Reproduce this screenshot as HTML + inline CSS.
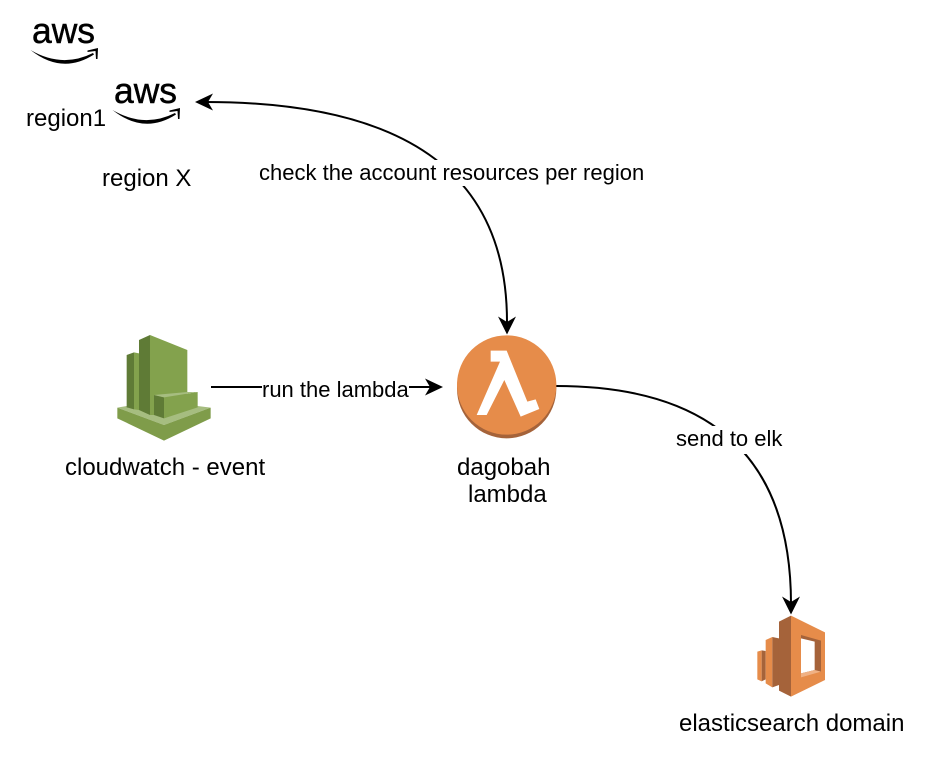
<!DOCTYPE html>
<html>
<head>
<meta charset="utf-8">
<style>
html,body{margin:0;padding:0;background:#fff;}
svg{display:block;}
text{font-family:"Liberation Sans",sans-serif;fill:#000;}
.l{font-size:24px;}
.c{font-size:22px;}
.a{stroke:#000;stroke-width:0.5px;}
</style>
</head>
<body>
<svg width="938" height="776" viewBox="0 0 938 776" xmlns="http://www.w3.org/2000/svg">
<rect width="938" height="776" fill="#fff"/>

<!-- connectors -->
<path d="M205,102 C415,102 507,180 507,322" fill="none" stroke="#000" stroke-width="2"/>
<path d="M211,387 L432,387" fill="none" stroke="#000" stroke-width="2"/>
<path d="M556,386 Q791,386 791,604" fill="none" stroke="#000" stroke-width="2"/>

<!-- label backgrounds -->
<rect x="256" y="160" width="390" height="26" fill="#fff"/>
<rect x="262" y="375" width="147" height="26" fill="#fff"/>
<rect x="673" y="426" width="112" height="28" fill="#fff"/>

<!-- arrowheads -->
<polygon points="195,102 213,93.500 208,102 213,110.500" fill="#000"/>
<polygon points="507,334.500 498,316.500 507,322 516,316.500" fill="#000"/>
<polygon points="443,387 425,378.500 430,387 425,395.500" fill="#000"/>
<polygon points="791,614.500 782,596.500 791,602 800,596.500" fill="#000"/>

<!-- aws logos -->
<g>
<text class="a" x="32" y="43" font-size="36" textLength="63" lengthAdjust="spacingAndGlyphs">aws</text>
<path d="M30.500,50 Q62,68.500 93,53 L94,54.500 Q62,75 30.500,50 Z" fill="#000"/>
<polygon points="87.500,50.500 98,48 97.500,59 96,59 95.500,51 87.500,52" fill="#000"/>
</g>
<g transform="translate(82,60)">
<text class="a" x="32" y="43" font-size="36" textLength="63" lengthAdjust="spacingAndGlyphs">aws</text>
<path d="M30.500,50 Q62,68.500 93,53 L94,54.500 Q62,75 30.500,50 Z" fill="#000"/>
<polygon points="87.500,50.500 98,48 97.500,59 96,59 95.500,51 87.500,52" fill="#000"/>
</g>

<!-- cloudwatch -->
<g transform="translate(100,320) scale(0.33333)">
<polygon points="52,263 80,258 293,258 332,263 192,315" fill="#a6bd80"/>
<polygon points="80,105 102,97 102,268 80,262" fill="#5f7b36"/>
<polygon points="102,97 117,100 117,270 102,268" fill="#83a24d"/>
<polygon points="117,60 150,45 150,285 117,270" fill="#5f7b36"/>
<polygon points="150,45 262,90 262,220 162,285 150,285" fill="#83a24d"/>
<polygon points="52,263 192,315 192,362 52,295" fill="#7f9c4a"/>
<polygon points="192,315 332,263 332,295 192,362" fill="#7f9c4a"/>
<polygon points="162,225 192,232 192,295 162,285" fill="#5f7b36"/>
<polygon points="192,232 293,216 293,262 192,295" fill="#83a24d"/>
<polygon points="162,225 262,216 293,216 192,232" fill="#a6bd80"/>
</g>

<!-- lambda -->
<g transform="translate(445,310) scale(0.33333)">
<circle cx="185" cy="236" r="149" fill="#a5633a"/>
<circle cx="185" cy="225" r="149" fill="#e68c4a"/>
<polygon points="137,122 185,122 247,275 272,268 283,297 227,320 178,210 125,315 95,315 165,155 137,155" fill="#fff"/>
</g>

<!-- elasticsearch -->
<g transform="translate(740,590) scale(0.33333)">
<polygon points="52,185 65,181 65,274 52,268" fill="#e68c4a"/>
<polygon points="65,181 77,183 77,268 65,274" fill="#a5633a"/>
<polygon points="77,150 97,141 97,292 77,280" fill="#e68c4a"/>
<polygon points="97,141 117,145 117,285 97,292" fill="#a5633a"/>
<polygon points="117,95 153,77 153,320 117,302" fill="#a5633a" />
<polygon points="153,77 255,127 255,270 153,320" fill="#e68c4a"/>
<polygon points="183,135 243,152 243,245 183,252" fill="#a5633a"/>
<polygon points="183,145 224,155 224,240 183,250" fill="#fff"/>
<polygon points="183,250 224,240 243,245 183,262" fill="#f0b184"/>
</g>

<!-- labels -->
<text class="l" x="26" y="126">region1</text>
<text class="l" x="102" y="186">region X</text>
<text class="c" x="259" y="180">check the account resources per region</text>
<text class="c" x="262" y="397">run the lambda</text>
<text class="c" x="676" y="446">send to elk</text>
<text class="l" x="65" y="475">cloudwatch - event</text>
<text class="l" x="457" y="475">dagobah</text>
<text class="l" x="468" y="502">lambda</text>
<text class="l" x="679" y="731">elasticsearch domain</text>
</svg>
</body>
</html>
